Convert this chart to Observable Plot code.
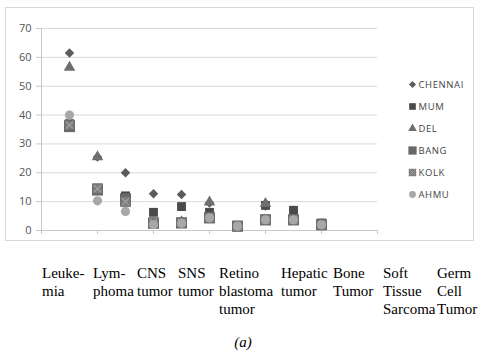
<!DOCTYPE html>
<html><head><meta charset="utf-8">
<script src="https://cdn.jsdelivr.net/npm/d3@7"></script>
<script src="https://cdn.jsdelivr.net/npm/@observablehq/plot@0.6"></script>
<style>
body{margin:0;background:#fff;}
#wrap{position:relative;width:482px;height:356px;overflow:hidden;background:#fff;}
#frame{position:absolute;left:5px;top:7px;width:469px;height:234px;border:1px solid #d9d9d9;box-sizing:border-box;}
#chart{position:absolute;left:0;top:0;}
#legend{position:absolute;left:398px;top:70px;}
.lab{position:absolute;top:264px;font-family:"Liberation Serif","Times New Roman",serif;font-size:15px;line-height:18px;color:#000;white-space:pre;}
#cap{position:absolute;left:0;width:486px;text-align:center;top:334px;font-family:"Liberation Serif",serif;font-style:italic;font-size:15px;}
</style></head>
<body>
<div id="wrap"><div id="frame"></div><div id="chart"></div><div id="legend"></div><div id="labels"></div><div id="cap"></div></div>
<script>
// ---- data ----
const series = ["CHENNAI", "MUM", "DEL", "BANG", "KOLK", "AHMU"];
const xIndex = [1, 2, 3, 4, 5, 6, 7, 8, 9, 10];
const chennai = [61.5, 25.5, 20, 12.7, 12.5, 9.5, 1.2, 8.5, 7, 2];
const mum     = [37, 14.5, 12, 6.3, 8.3, 6.3, 1.5, 8.7, 7, 2.6];
const del     = [56.5, 25.5, 10, 2.5, 3, 9.8, 1.2, 9.3, 3.5, 2];
const bang    = [36, 14, 11, 2.5, 2.6, 4.4, 1.5, 3.7, 3.7, 2];
const kolk    = [36.5, 14.5, 10, 2.7, 2.7, 4.4, 1.5, 3.7, 3.7, 2];
const ahmu    = [40, 10.3, 6.6, 2, 2.5, 4.4, 1.5, 3.7, 3.7, 2];
const yTicks = [0, 10, 20, 30, 40, 50, 60, 70];
const xTicks = [0, 2, 4, 6, 8, 10, 12];
const categoryLabels = ["Leuke-\nmia", "Lym-\nphoma", "CNS\ntumor", "SNS\ntumor", "Retino\nblastoma\ntumor", "Hepatic\ntumor", "Bone\nTumor", "Soft\nTissue\nSarcoma", "Germ\nCell\nTumor"];
const caption = "(a)";

// ---- layout / styles ----
const labelLeft = [42, 93, 137, 178, 219, 281, 333, 383, 437];
const styles = {
  CHENNAI: {symbol: "diamond2", r: 4.3, fill: "#5c5c5c"},
  MUM:     {symbol: "square", r: 5.0, fill: "#4a4a4a"},
  DEL:     {symbol: "triangle", r: 4.3, fill: "#6e6e6e"},
  BANG:    {symbol: "square", r: 6.2, fill: "#686868"},
  KOLK:    {symbol: "square", r: 5.6, fill: "#7c7c7c"},
  AHMU:    {symbol: "circle", r: 4.6, fill: "#a8a8a8"}
};
const valuesBySeries = [chennai, mum, del, bang, kolk, ahmu];
const rows = series.flatMap((s, i) => xIndex.map((x, j) => ({series: s, x, value: valuesBySeries[i][j]})));

const dotMarks = series.flatMap(s => {
  const st = styles[s];
  const data = rows.filter(d => d.series === s);
  const m = [Plot.dot(data, {x: "x", y: "value", symbol: () => st.symbol, r: st.r, fill: st.fill, stroke: s === "KOLK" ? "#6a6a6a" : "none", strokeWidth: 0.8})];
  if (s === "KOLK") m.push(Plot.dot(data, {x: "x", y: "value", symbol: () => "times", r: 3.2, stroke: "#a0a0a0", strokeWidth: 1.2}));
  return m;
});

const chart = Plot.plot({
  width: 482, height: 245,
  marginLeft: 41, marginRight: 105, marginTop: 28, marginBottom: 15,
  style: {fontFamily: "'Open Sans', 'Liberation Sans', sans-serif", background: "transparent"},
  x: {domain: [0, 12]},
  y: {domain: [0, 70]},
  symbol: {type: "identity"},
  marks: [
    Plot.gridY(yTicks.filter(t => t > 0), {stroke: "#d9d9d9", strokeOpacity: 1}),
    Plot.axisY({ticks: yTicks, tickSize: 5, tickPadding: 5, fontSize: 11, stroke: "#c8c8c8", fill: "#555", label: null}),
    Plot.axisX({ticks: xTicks, tickSize: 4, tickFormat: () => "", stroke: "#c8c8c8", label: null}),
    Plot.ruleY([0], {stroke: "#c8c8c8"}),
    Plot.ruleX([0], {stroke: "#c8c8c8"}),
    ...dotMarks
  ]
});
document.getElementById("chart").append(chart);

// legend drawn by Plot
const legendRows = series.map(s => ({series: s}));
const legend = Plot.plot({
  width: 84, height: 140, margin: 0,
  x: {domain: [0, 1], range: [14, 84]},
  y: {type: "point", domain: series, range: [13, 13 + 5 * 22.2], padding: 0},
  symbol: {type: "identity"},
  axis: null,
  style: {fontFamily: "'Open Sans', 'Liberation Sans', sans-serif", background: "transparent"},
  marks: [
    ...series.map(s => Plot.dot(legendRows.filter(d => d.series === s), {x: () => 0, y: "series", symbol: () => styles[s].symbol, r: styles[s].r * 0.75, fill: styles[s].fill})),
    Plot.dot(legendRows.filter(d => d.series === "KOLK"), {x: () => 0, y: "series", symbol: () => "times", r: 2.4, stroke: "#a0a0a0", strokeWidth: 1}),
    Plot.text(legendRows, {x: () => 0, y: "series", text: "series", dx: 6, textAnchor: "start", fontSize: 9.5, fill: "#454545"})
  ]
});
legend.querySelectorAll("text").forEach(t => t.style.letterSpacing = "0.6px");
document.getElementById("legend").append(legend);

// category labels beneath
const labs = document.getElementById("labels");
categoryLabels.forEach((t, i) => {
  const d = document.createElement("div");
  d.className = "lab";
  d.style.left = labelLeft[i] + "px";
  d.textContent = t;
  labs.append(d);
});
document.getElementById("cap").textContent = caption;
</script>
</body></html>
